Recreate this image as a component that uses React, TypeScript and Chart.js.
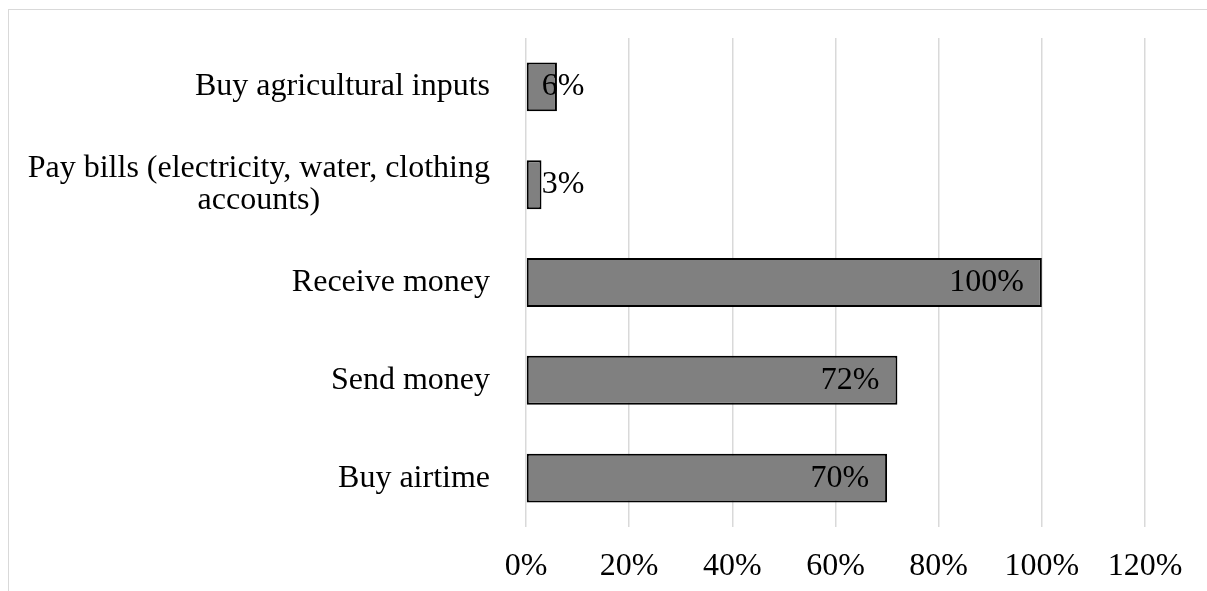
import React, { useEffect, useRef } from "react";
import { Chart, registerables } from "chart.js";

Chart.register(...registerables);

const categories: string[][] = [
  ["Buy agricultural inputs"],
  ["Pay bills (electricity, water, clothing", "accounts)"],
  ["Receive money"],
  ["Send money"],
  ["Buy airtime"],
];
const values: number[] = [0.06, 0.03, 1.0, 0.72, 0.7];
const xTicks: number[] = [0, 0.2, 0.4, 0.6, 0.8, 1.0, 1.2];

const FONT = '"Liberation Serif", "Times New Roman", serif';

const labelsPlugin = {
  id: "customLabels",
  afterDatasetsDraw(chart: any) {
    const ctx = chart.ctx as CanvasRenderingContext2D;
    const meta = chart.getDatasetMeta(0);
    const yScale = chart.scales.y;
    ctx.save();
    ctx.font = `32px ${FONT}`;
    ctx.fillStyle = "#000";
    ctx.textBaseline = "middle";
    // data labels
    meta.data.forEach((bar: any, i: number) => {
      const txt = Math.round(values[i] * 100) + "%";
      const w = ctx.measureText(txt).width;
      const x = Math.max(bar.base + 15, bar.x - 18 - w);
      ctx.textAlign = "left";
      ctx.fillText(txt, x, bar.y);
    });
    // category labels
    const right = chart.chartArea.left - 36;
    categories.forEach((lines, i) => {
      const y = yScale.getPixelForTick(i);
      if (lines.length === 1) {
        ctx.textAlign = "right";
        ctx.fillText(lines[0], right, y);
      } else {
        const widest = Math.max(...lines.map((l) => ctx.measureText(l).width));
        const cx = right - widest / 2;
        const lh = 32;
        const start = y - ((lines.length - 1) * lh) / 2;
        ctx.textAlign = "center";
        lines.forEach((l, j) => ctx.fillText(l, cx, start + j * lh));
      }
    });
    ctx.restore();
  },
};

export default function App() {
  const ref = useRef<HTMLCanvasElement | null>(null);
  useEffect(() => {
    if (!ref.current) return;
    const chart = new Chart(ref.current, {
      type: "bar",
      data: {
        labels: categories.map((c) => c.join(" ")),
        datasets: [
          {
            data: values,
            backgroundColor: "#808080",
            borderColor: "#000000",
            borderWidth: 2,
            borderSkipped: false,
            barPercentage: 0.5,
            categoryPercentage: 1.0,
          },
        ],
      },
      options: {
        indexAxis: "y",
        animation: false,
        responsive: false,
        devicePixelRatio: 1,
        layout: { padding: { top: 28, right: 54, bottom: 0, left: 0 } },
        plugins: {
          legend: { display: false },
          tooltip: { enabled: false },
        },
        scales: {
          x: {
            min: 0,
            max: 1.2,
            afterBuildTicks(scale: any) {
              scale.ticks = xTicks.map((v) => ({ value: v }));
            },
            afterFit(scale: any) {
              scale.height = 53;
              scale.paddingLeft = 0;
              scale.paddingRight = 0;
            },
            grid: { color: "#d9d9d9", lineWidth: 1.5, drawTicks: false },
            border: { display: false },
            ticks: {
              padding: 20,
              color: "#000",
              font: { family: FONT, size: 32 },
              callback: (v: any) => Math.round(Number(v) * 100) + "%",
            },
          },
          y: {
            afterFit(scale: any) {
              scale.width = 517;
            },
            grid: { display: false },
            border: { display: false },
            ticks: { display: false },
          },
        },
      },
      plugins: [labelsPlugin],
    });
    return () => chart.destroy();
  }, []);
  return (
    <div
      style={{
        position: "absolute",
        left: 8,
        top: 9,
        width: 1198,
        height: 581,
        borderTop: "1px solid #d9d9d9",
        borderLeft: "1px solid #d9d9d9",
        background: "#fff",
      }}
    >
      <canvas ref={ref} width={1190} height={570} style={{ display: "block" }} />
    </div>
  );
}
